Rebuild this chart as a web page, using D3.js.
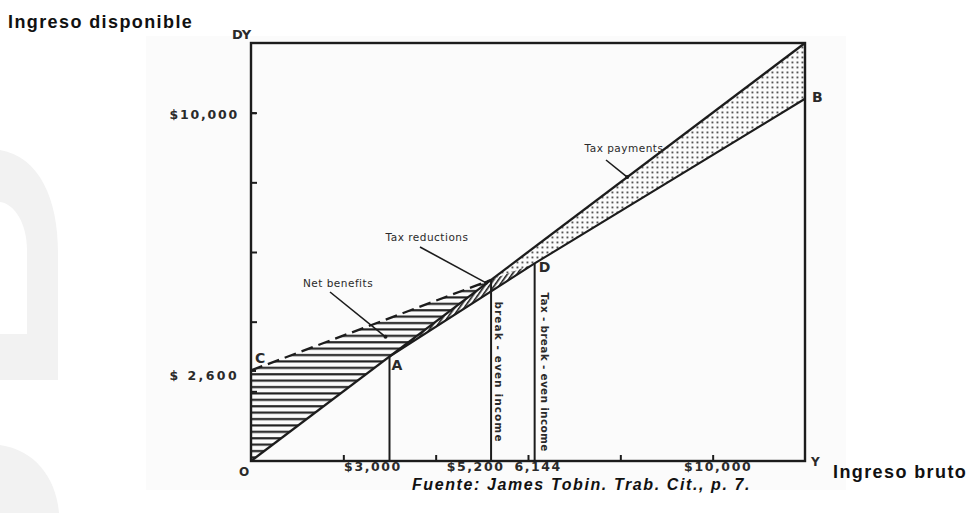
<!DOCTYPE html>
<html>
<head>
<meta charset="utf-8">
<script src="https://cdn.jsdelivr.net/npm/d3@7"></script>
<style>
  body { margin: 0; background: #fff; }
  svg { display: block; }
</style>
</head>
<body>
<svg id="chart" width="970" height="513"></svg>
<script>
// valores (Tobin)
const xTicks = [2000, 4000, 6000, 8000, 10000]
const yTicks = [2000, 4000, 6000, 8000, 10000]
const xLabelValues = [3000, 5200, 6144, 10000]
const xLabelText = ["$3,000", "$5,200", "6,144", "$10,000"]
const yLabelValues = [2600, 10000]
const yLabelText = ["$ 2,600", "$10,000"]

const diagonal = [[0, 0], [12000, 12000]]
const nitLine = [[0, 2600], [5200, 5200]]
const taxLine = [[3000, 3000], [6144, 5672], [12000, 10400]]
const netBenefitArea = [[0, 0], [0, 2600], [5200, 5200]]
const taxReductionArea = [[3000, 3000], [5200, 5200], [6144, 5672]]
const taxPaymentArea = [[5200, 5200], [12000, 12000], [12000, 10400], [6144, 5672]]

const exemption = 3000, breakEven = 5200, taxBreakEven = 6144
const pointA = [3000, 3000], pointB = [12000, 10400], pointC = [0, 2600], pointD = [6144, 5672]

const svg = d3.select("#chart")
const ink = "#1c1c1c"

const x = d3.scaleLinear().domain([0, 12000]).range([251, 805])
const y = d3.scaleLinear().domain([0, 12000]).range([461, 43])

// marca de agua gris a la izquierda
svg.append("path")
  .attr("d", "M0,150 C40,157 58,200 58,252 L58,380 L0,380 Z M0,202 L0,334 L27,334 L27,250 C27,224 15,204 0,202 Z")
  .attr("fill", "#f2f2f2").attr("fill-rule", "evenodd")
svg.append("path")
  .attr("d", "M0,445 C35,450 56,478 59,513 L0,513 Z")
  .attr("fill", "#f2f2f2")

// fondo del escaneo
svg.append("rect").attr("x", 146).attr("y", 36).attr("width", 700).attr("height", 454).attr("fill", "#fbfbfb")

const defs = svg.append("defs")
defs.append("pattern").attr("id", "hlines").attr("patternUnits", "userSpaceOnUse")
  .attr("width", 8).attr("height", 6.4)
  .append("rect").attr("x", 0).attr("y", 2).attr("width", 8).attr("height", 2.1).attr("fill", ink)
defs.append("pattern").attr("id", "dots").attr("patternUnits", "userSpaceOnUse")
  .attr("width", 5).attr("height", 5)
  .append("rect").attr("x", 1.5).attr("y", 1.5).attr("width", 1.9).attr("height", 1.9).attr("fill", "#555")
defs.append("pattern").attr("id", "diag").attr("patternUnits", "userSpaceOnUse")
  .attr("width", 4).attr("height", 4).attr("patternTransform", "rotate(35)")
  .append("rect").attr("x", 0).attr("y", 0).attr("width", 1.6).attr("height", 4).attr("fill", ink)

const line = d3.line().x(d => x(d[0])).y(d => y(d[1]))

svg.append("path").attr("d", line(netBenefitArea) + "Z").attr("fill", "url(#hlines)")
svg.append("path").attr("d", line(taxPaymentArea) + "Z").attr("fill", "url(#dots)")
svg.append("path").attr("d", line(taxReductionArea) + "Z").attr("fill", "url(#diag)")

// marco
svg.append("rect")
  .attr("x", x(0)).attr("y", y(12000))
  .attr("width", x(12000) - x(0)).attr("height", y(0) - y(12000))
  .attr("fill", "none").attr("stroke", ink).attr("stroke-width", 2.4)

svg.append("path").attr("d", line(diagonal)).attr("fill", "none").attr("stroke", ink).attr("stroke-width", 2.3)
svg.append("path").attr("d", line(taxLine)).attr("fill", "none").attr("stroke", ink).attr("stroke-width", 2.1)
svg.append("path").attr("d", line(nitLine)).attr("fill", "none").attr("stroke", ink)
  .attr("stroke-width", 2.3).attr("stroke-dasharray", "12,6")

// lineas verticales
const verticals = [[exemption, 3000], [breakEven, 5200], [taxBreakEven, pointD[1]]]
svg.selectAll(".vline").data(verticals).enter().append("line")
  .attr("class", "vline")
  .attr("x1", d => x(d[0])).attr("x2", d => x(d[0]))
  .attr("y1", y(0)).attr("y2", d => y(d[1]))
  .attr("stroke", ink).attr("stroke-width", 2)

// ejes
function style_axis(g) {
  g.select(".domain").remove()
  g.selectAll(".tick line").attr("stroke", ink).attr("stroke-width", 2)
  g.selectAll(".tick text")
    .attr("fill", "#2a2a2a")
    .attr("font-family", "DejaVu Sans, sans-serif")
    .attr("font-weight", "bold")
    .attr("font-size", 12.5)
    .attr("letter-spacing", 1.6)
}

svg.append("g").attr("transform", `translate(${x(0)},0)`)
  .call(d3.axisLeft(y).tickValues(yTicks).tickSize(-6).tickFormat(""))
  .call(style_axis)
svg.append("g").attr("transform", `translate(${x(0)},0)`)
  .call(d3.axisLeft(y).tickValues(yLabelValues).tickSize(-5).tickPadding(12).tickFormat((d, i) => yLabelText[i]))
  .call(style_axis)
  .selectAll(".tick text").attr("dy", (d, i) => i == 0 ? "0.7em" : "0.45em")
    .attr("letter-spacing", (d, i) => i == 0 ? 2.4 : 1.8)

svg.append("g").attr("transform", `translate(0,${y(0)})`)
  .call(d3.axisBottom(x).tickValues(xTicks).tickSize(-6).tickFormat(""))
  .call(style_axis)
const xLabelShift = [-17, -16, 3, 5]
svg.append("g").attr("transform", `translate(0,${y(0)})`)
  .call(d3.axisBottom(x).tickValues(xLabelValues).tickSize(0).tickPadding(1).tickFormat((d, i) => xLabelText[i]))
  .call(style_axis)
  .selectAll(".tick text").attr("dx", (d, i) => xLabelShift[i])

// letras de puntos
function letter(txt, px, py, size) {
  svg.append("text").text(txt)
    .attr("x", px).attr("y", py)
    .attr("font-family", "DejaVu Sans, sans-serif").attr("font-weight", "bold")
    .attr("font-size", size || 14).attr("fill", "#2a2a2a")
    .attr("dominant-baseline", "central")
}
letter("C", x(pointC[0]) + 4, y(pointC[1]) - 12)
letter("A", x(pointA[0]) + 2, y(pointA[1]) + 8)
letter("D", x(pointD[0]) + 4, y(pointD[1]) + 4)
letter("B", x(pointB[0]) + 7, y(pointB[1]) - 2)
letter("O", x(0) - 12, y(0) + 11, 12)
letter("DY", x(0) - 19, y(12000) - 9, 13)
letter("Y", x(12000) + 6, y(0) + 1, 12)

// textos girados
function vtext(txt, px, py, spacing) {
  svg.append("text").text(txt)
    .attr("transform", `translate(${px},${py}) rotate(90)`)
    .attr("text-anchor", "middle").attr("dominant-baseline", "central")
    .attr("font-family", "DejaVu Sans, sans-serif").attr("font-weight", "bold")
    .attr("font-size", 10.5).attr("letter-spacing", spacing).attr("fill", "#2a2a2a")
}
vtext("break - even income", x(breakEven) + 8, 372, 1.1)
vtext("Tax - break - even income", x(taxBreakEven) + 10, 372, 0.3)

// anotaciones con flechas
function note(txt, tx, ty, from, to) {
  svg.append("text").text(txt)
    .attr("x", tx).attr("y", ty)
    .attr("text-anchor", "middle").attr("dominant-baseline", "central")
    .attr("font-family", "DejaVu Sans, sans-serif")
    .attr("font-size", 10.5).attr("letter-spacing", 0.5).attr("fill", "#2a2a2a")
  svg.append("line")
    .attr("x1", from[0]).attr("y1", from[1]).attr("x2", to[0]).attr("y2", to[1])
    .attr("stroke", ink).attr("stroke-width", 1.6)
  svg.append("circle").attr("cx", to[0]).attr("cy", to[1]).attr("r", 2).attr("fill", ink)
}
note("Tax payments", 624, 148, [606, 160], [x(8150), y(8150)])
note("Tax reductions", 427, 237, [420, 247], [x(breakEven) - 5, y(breakEven) + 3])
note("Net benefits", 338, 283, [330, 292], [x(3000) - 4, y(3650) + 3])

// titulos
svg.append("text").text("Ingreso disponible")
  .attr("x", 8).attr("y", 22).attr("dominant-baseline", "central")
  .attr("font-family", "Liberation Sans, Arial, sans-serif").attr("font-weight", "bold")
  .attr("font-size", 18).attr("letter-spacing", 1.4).attr("fill", "#111")
svg.append("text").text("Ingreso bruto")
  .attr("x", 833).attr("y", 472).attr("dominant-baseline", "central")
  .attr("font-family", "Liberation Sans, Arial, sans-serif").attr("font-weight", "bold")
  .attr("font-size", 18).attr("letter-spacing", 1.4).attr("fill", "#111")
svg.append("text").text("Fuente: James Tobin. Trab. Cit., p. 7.")
  .attr("x", 412).attr("y", 484).attr("dominant-baseline", "central")
  .attr("font-family", "Liberation Sans, Arial, sans-serif").attr("font-weight", "bold")
  .attr("font-style", "italic").attr("font-size", 16).attr("letter-spacing", 1.6).attr("fill", "#111")
</script>
</body>
</html>
